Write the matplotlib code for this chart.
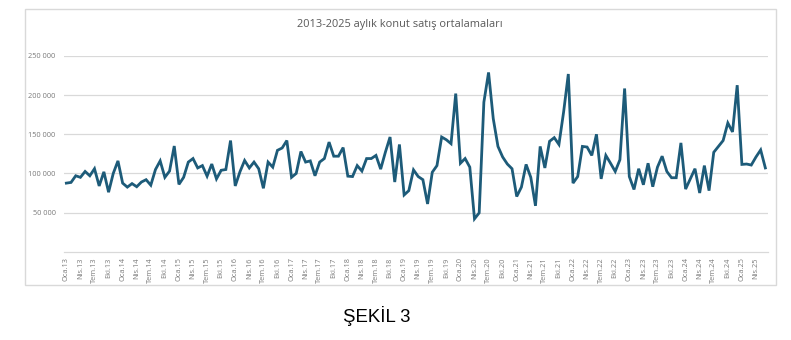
import matplotlib
matplotlib.use("Agg")
import matplotlib.pyplot as plt
from matplotlib.patches import Rectangle
from matplotlib.ticker import FuncFormatter, FixedLocator

# Monthly average housing sales, Jan 2013 - Jun 2025
start_year = 2013
month_names = ["Oca", "Nis", "Tem", "Eki"]  # quarterly tick labels (Jan, Apr, Jul, Oct)

sales = [
    87600, 88500, 97000, 95000, 102500, 97000, 106000, 84000, 102000, 76000, 100000, 116000,   # 2013
    87600, 82500, 87000, 83000, 89000, 92000, 85000, 105000, 116000, 95000, 103000, 135000,    # 2014
    86000, 95000, 114500, 119000, 107000, 110000, 96500, 112000, 93000, 104000, 105000, 142000, # 2015
    84000, 102000, 116500, 107000, 114500, 106000, 81000, 114500, 108000, 129500, 132500, 142000, # 2016
    95000, 100000, 128000, 114500, 116000, 97000, 114500, 119000, 140000, 122000, 122000, 133000, # 2017
    96500, 96000, 110000, 103000, 119000, 119000, 123000, 105500, 127000, 146500, 89000, 137000,  # 2018
    72500, 78000, 104500, 96000, 92000, 61000, 101500, 110000, 146500, 143000, 138000, 202000,   # 2019
    113000, 119000, 108000, 42000, 49600, 191000, 229000, 170000, 134500, 121000, 112000, 106000, # 2020
    70500, 82500, 111500, 95000, 58600, 134500, 107000, 141000, 145700, 137000, 178600, 227000,  # 2021
    87600, 96000, 134500, 133700, 123000, 150000, 93000, 123000, 113000, 102500, 117500, 208500, # 2022
    96000, 79500, 106000, 85500, 113000, 83000, 108000, 122000, 102500, 94500, 94500, 139000,    # 2023
    80000, 93000, 106000, 75000, 110000, 78000, 127000, 134500, 142000, 164500, 153000, 212700,  # 2024
    111500, 112000, 110700, 121000, 130000, 107000,                                          # 2025
]

n = len(sales)
x = list(range(n))
tick_pos = list(range(0, n, 3))
tick_labels = [f"{month_names[(i % 12) // 3]}.{(start_year + i // 12) % 100:02d}" for i in tick_pos]

W, H, DPI = 791, 340, 100
fig = plt.figure(figsize=(W / DPI, H / DPI), dpi=DPI)
fig.patch.set_facecolor("white")

# chart frame
fig.patches.append(Rectangle((25 / W, 1 - 285 / H), (776 - 25) / W, (285 - 9) / H,
                             transform=fig.transFigure, fill=False,
                             edgecolor="#d9d9d9", linewidth=1.0))

ax = fig.add_axes([64 / W, 1 - 251.7 / H, (767.7 - 64) / W, (251.7 - 56) / H])
ax.plot(x, sales, color="#1d5b79", linewidth=2.0, solid_joinstyle="miter")

ax.set_xlim(-0.5, n - 0.5)
ax.set_ylim(0, 250000)
ax.yaxis.set_major_locator(FixedLocator([50000, 100000, 150000, 200000, 250000]))
ax.yaxis.set_major_formatter(FuncFormatter(lambda v, p: f"{int(v):,}".replace(",", " ")))
ax.grid(axis="y", color="#d9d9d9", linewidth=0.9)
ax.set_axisbelow(True)
for s in ["top", "right", "left"]:
    ax.spines[s].set_visible(False)
ax.spines["bottom"].set_color("#d9d9d9")
ax.spines["bottom"].set_linewidth(0.9)

ax.set_xticks(tick_pos)
ax.set_xticklabels(tick_labels, rotation=90, fontsize=5.3, color="#7a7a7a", family="Open Sans")
ax.tick_params(axis="both", length=0)
ax.tick_params(axis="x", pad=4)
ax.tick_params(axis="y", pad=6, labelsize=5.3, labelcolor="#7a7a7a")
for lbl in ax.get_yticklabels():
    lbl.set_family("Open Sans")

fig.text(400 / W, 1 - 24 / H, "2013-2025 aylık konut satış ortalamaları",
         ha="center", va="center", fontsize=7.9, color="#595959", family="Open Sans")

fig.text(376.5 / W, 1 - 316 / H, "ŞEKİL 3", ha="center", va="center",
         fontsize=13.4, color="black", family="Liberation Sans")

fig.savefig("out.png", dpi=DPI, facecolor="white")
